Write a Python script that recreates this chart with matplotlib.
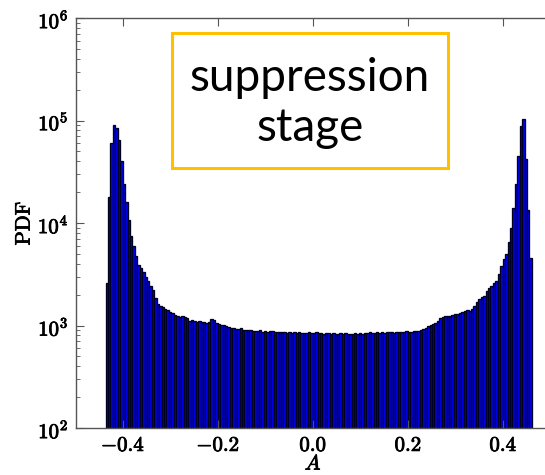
import numpy as np
import matplotlib
matplotlib.use("Agg")
import matplotlib.pyplot as plt
import matplotlib.patheffects as pe
from matplotlib.patches import Rectangle
from matplotlib.ticker import FixedLocator, FixedFormatter, LogLocator, NullFormatter

plt.rcParams["mathtext.fontset"] = "cm"

# Histogram range of the asymmetry A and the PDF height of each bin
a_min, a_max = -0.4367, 0.4598
pdf = [
    2600, 18000, 60000, 91000, 85000, 65000, 40000, 24000, 16000, 10700,
    7400, 5900, 4800, 3900, 3650, 3350, 2940, 2720, 2430, 2220,
    1860, 1625, 1550, 1500, 1460, 1420, 1365, 1320, 1260, 1240,
    1220, 1230, 1210, 1180, 1110, 1120, 1100, 1090, 1095, 1080,
    1070, 1065, 1080, 1150, 1140, 1060, 1030, 1010, 1020, 980,
    960, 955, 940, 930, 920, 935, 905, 910, 895, 900,
    880, 890, 875, 895, 870, 880, 865, 875, 880, 860,
    870, 855, 865, 860, 850, 870, 845, 855, 850, 860,
    845, 850, 840, 855, 845, 850, 860, 840, 845, 835,
    850, 840, 830, 845, 835, 825, 840, 830, 845, 820,
    835, 830, 840, 825, 845, 835, 850, 840, 855, 845,
    850, 860, 845, 855, 850, 865, 855, 860, 850, 865,
    860, 870, 855, 875, 865, 870, 880, 875, 890, 905,
    930, 950, 980, 1010, 1030, 1060, 1100, 1180, 1220, 1240,
    1250, 1230, 1260, 1300, 1290, 1310, 1360, 1380, 1420, 1400,
    1450, 1560, 1700, 1800, 1880, 1960, 2150, 2300, 2450, 2600,
    2700, 3200, 3800, 4500, 5000, 6500, 9000, 14000, 24000, 45000,
    88000, 103000, 42000, 13400, 4560,
]
x_ticks = [-0.4, -0.2, 0.0, 0.2, 0.4]
x_tick_labels = [r"$-0.4$", r"$-0.2$", r"$0.0$", r"$0.2$", r"$0.4$"]
y_ticks = [1e2, 1e3, 1e4, 1e5, 1e6]
y_tick_labels = [r"$10^{2}$", r"$10^{3}$", r"$10^{4}$", r"$10^{5}$", r"$10^{6}$"]

edges = np.linspace(a_min, a_max, len(pdf) + 1)
centers = 0.5 * (edges[:-1] + edges[1:])

W, H = 545, 475
fig = plt.figure(figsize=(W / 100, H / 100), dpi=100)
ax = fig.add_axes([75.5 / W, (H - 428) / H, (551 - 75.5) / W, (428 - 18) / H])

ax.hist(centers, bins=edges, weights=pdf, color="#0000ff",
        edgecolor="#000022", linewidth=0.95)

ax.set_yscale("log")
ax.set_xlim(-0.5, 0.5)
ax.set_ylim(1e2, 1e6)

ax.xaxis.set_major_locator(FixedLocator(x_ticks))
ax.xaxis.set_major_formatter(FixedFormatter(x_tick_labels))
ax.yaxis.set_major_locator(FixedLocator(y_ticks))
ax.yaxis.set_major_formatter(FixedFormatter(y_tick_labels))
ax.yaxis.set_minor_locator(LogLocator(base=10, subs=np.arange(2, 10)))
ax.yaxis.set_minor_formatter(NullFormatter())

spine_col = "#555555"
for s in ax.spines.values():
    s.set_color(spine_col)
    s.set_linewidth(1.0)

ax.tick_params(which="both", direction="in", top=True, right=False,
               color=spine_col, labelsize=15)
ax.tick_params(which="major", length=6, pad=5)
ax.tick_params(which="minor", length=3)

ax.set_ylabel(r"$\mathrm{PDF}$", fontsize=15, labelpad=3)
ax.set_xlabel(r"$A$", fontsize=15, labelpad=-1)

# slightly heavier strokes for the Computer Modern labels
heavy = [pe.withStroke(linewidth=0.6, foreground="black")]
for lbl in ax.get_xticklabels() + ax.get_yticklabels():
    lbl.set_path_effects(heavy)
ax.xaxis.label.set_path_effects(heavy)
ax.yaxis.label.set_path_effects(heavy)

# Stage annotation box
fig.add_artist(Rectangle((172 / W, (H - 168) / H), (448 - 172) / W, (168 - 33) / H,
                         transform=fig.transFigure, fill=False,
                         edgecolor="#ffc000", linewidth=2.2))
fig.text(310 / W, (H - 103) / H, "suppression\nstage", ha="center", va="center",
         fontsize=33, family="Lato", color="black", linespacing=1.25)

fig.savefig("out.png", dpi=100)
